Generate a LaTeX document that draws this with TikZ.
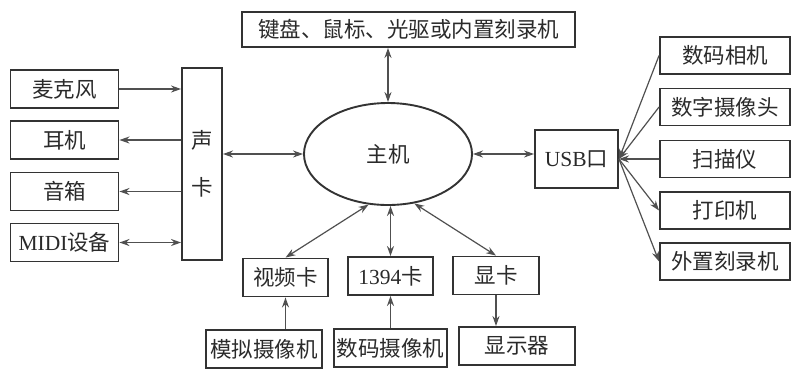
\documentclass[tikz,border=0pt]{standalone}
\usepackage{fontspec}
\setmainfont{Liberation Serif}
\newfontfamily\cjk{Noto Sans CJK SC}
\usetikzlibrary{arrows.meta,shapes.geometric}
\definecolor{boxc}{HTML}{333333}
\definecolor{linec}{HTML}{505050}
\definecolor{txt}{HTML}{2A2A2A}
\begin{document}
\begin{tikzpicture}[x=1pt,y=-1pt,
  box/.style={draw=boxc, line width=1.9pt, rectangle, inner sep=0pt,
    font=\fontsize{21.5}{25}\selectfont\cjk, text=txt},
  lbox/.style={box, minimum width=108pt, minimum height=38pt},
  rbox/.style={box, minimum width=130pt, minimum height=37pt},
  bbox/.style={box, minimum height=38pt},
  conn/.style={draw=linec, line width=1.2pt},
  ar/.style={conn, -{Stealth[length=10pt,width=7pt]}},
  biar/.style={conn, {Stealth[length=10pt,width=7pt]}-{Stealth[length=10pt,width=7pt]}}]
\useasboundingbox (0,0) rectangle (792,368);
% top
\node[box, minimum width=333pt, minimum height=35pt] (kb) at (408.5,29.5) {键盘、鼠标、光驱或内置刻录机};
% left
\node[lbox] (mic) at (64.5,89) {麦克风};
\node[lbox] (ear) at (64.5,140) {耳机};
\node[lbox] (spk) at (64.5,191.5) {音箱};
\node[lbox] (midi) at (64.5,242.5) {{\rmfamily MIDI}设备};
\node[box, minimum width=40pt, minimum height=192pt, align=center] (snd) at (202,164) {声\\[22pt]卡};
% host
\node[draw=boxc, line width=1.9pt, ellipse, minimum width=168pt, minimum height=102pt,
  font=\fontsize{21.5}{25}\selectfont\cjk, text=txt] (host) at (388,154) {主机};
% usb
\node[box, minimum width=83pt, minimum height=58pt] (usb) at (576.5,159) {{\rmfamily USB}口};
% right
\node[rbox] (cam) at (725,55.5) {数码相机};
\node[rbox] (web) at (725,107) {数字摄像头};
\node[rbox] (scan) at (725,159) {扫描仪};
\node[rbox] (prn) at (725,210.5) {打印机};
\node[rbox] (burn) at (725,261.5) {外置刻录机};
% bottom
\node[bbox, minimum width=85pt] (vid) at (285.5,277.5) {视频卡};
\node[bbox, minimum width=85pt] (fw) at (390.5,276) {{\rmfamily 1394}卡};
\node[bbox, minimum width=86pt] (gpu) at (496,275.5) {显卡};
\node[bbox, minimum width=116pt] (ana) at (264,349) {模拟摄像机};
\node[bbox, minimum width=113pt] (dv) at (390.5,348) {数码摄像机};
\node[bbox, minimum width=116pt] (mon) at (517,346) {显示器};
% connectors
\draw[ar] (mic.east) -- (mic.east -| snd.west);
\draw[ar] (ear.east -| snd.west) -- (ear.east);
\draw[ar] (spk.east -| snd.west) -- (spk.east);
\draw[biar] (midi.east) -- (midi.east -| snd.west);
\draw[biar] (snd.east |- host.west) -- (host.west);
\draw[biar] (kb.south -| host.north) -- (host.north);
\draw[biar] (host.east) -- (host.east -| usb.west);
\draw[ar] (cam.west) -- (usb.east);
\draw[ar] (web.west) -- (usb.east);
\draw[ar] (scan.west) -- (usb.east);
\draw[ar] (usb.east) -- (prn.west);
\draw[ar] (usb.east) -- (burn.west);
\draw[biar] (vid.north) -- (host.249);
\draw[biar] (fw.north) -- (fw.north |- host.south);
\draw[biar] (host.298) -- (gpu.north);
\draw[ar] (vid.south |- ana.north) -- (vid.south);
\draw[ar] (dv.north) -- (fw.south);
\draw[ar] (gpu.south) -- (gpu.south |- mon.north);
\end{tikzpicture}
\end{document}
